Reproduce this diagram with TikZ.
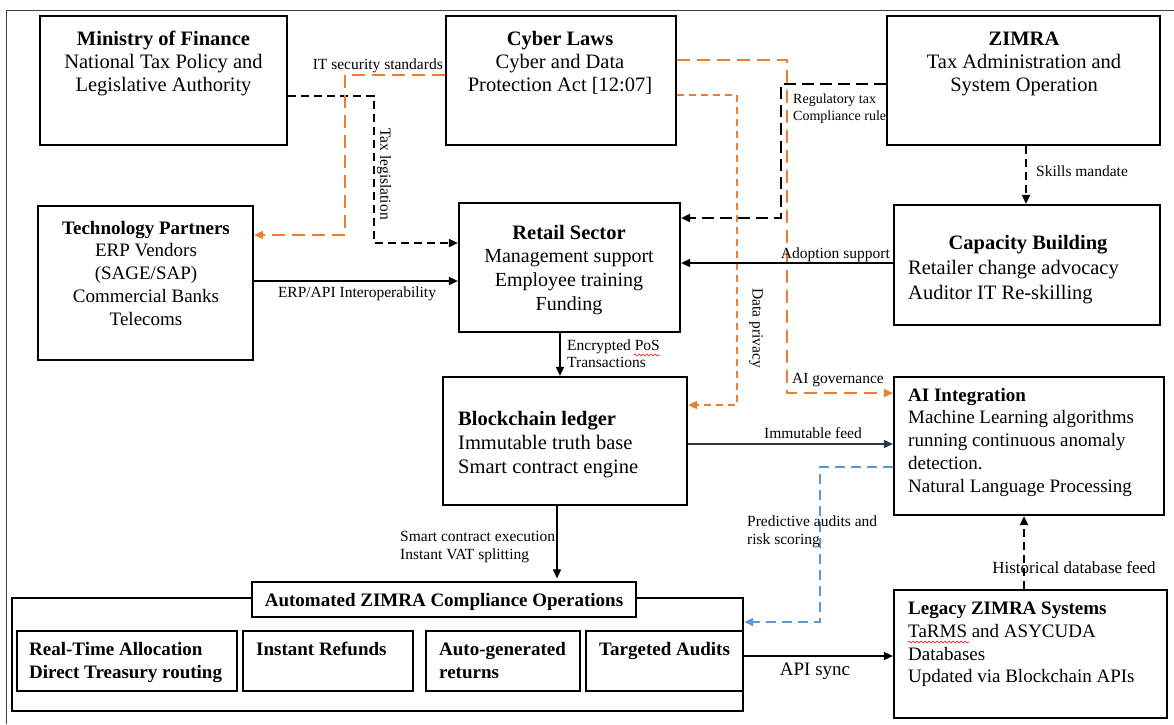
\documentclass[tikz,border=0pt]{standalone}
\usepackage{fontspec}
\setmainfont{Liberation Serif}
\usetikzlibrary{arrows.meta,decorations.pathmorphing}
\definecolor{orng}{HTML}{ED7D31}
\definecolor{blu}{HTML}{5B9BD5}
\definecolor{slate}{HTML}{2E3A48}
\tikzset{
  box/.style={draw, line width=2.2pt, fill=white, inner sep=0pt},
  subbox/.style={draw, line width=1.2pt, fill=white, inner sep=0pt},
  ttl/.style={font=\fontsize{20.5}{23}\selectfont\bfseries, inner sep=0pt},
  body/.style={font=\fontsize{20.5}{23}\selectfont, inner sep=0pt},
  ttls/.style={font=\fontsize{19}{22}\selectfont\bfseries, inner sep=0pt},
  bodys/.style={font=\fontsize{19}{22}\selectfont, inner sep=0pt},
  lbl/.style={font=\fontsize{15.5}{18}\selectfont, inner sep=0pt},
  tip/.style={-{Triangle[length=9pt,width=8pt]}},
  bdash/.style={tip, draw=black, line width=1.8pt, dash pattern=on 8pt off 5pt},
  bdashL/.style={tip, draw=black, line width=1.8pt, dash pattern=on 12pt off 6pt},
  odashL/.style={tip, draw=orng, line width=1.8pt, dash pattern=on 13pt off 7pt},
  odashS/.style={tip, draw=orng, line width=1.8pt, dash pattern=on 7pt off 5pt},
  bludash/.style={tip, draw=blu, line width=1.8pt, dash pattern=on 10pt off 6pt},
  solidarrow/.style={tip, draw=black, line width=1.6pt},
  squiggle/.style={draw=red, line width=0.6pt, decorate, decoration={snake, amplitude=0.9pt, segment length=4pt}}
}
\begin{document}
\begin{tikzpicture}[x=1pt,y=-1pt]
\useasboundingbox (0,0) rectangle (1174,724);
% outer frame
\draw[black!75, line width=0.8pt] (1174,10) -- (6,10) -- (6,724);

% label hidden partly under ZIMRA box
\node[lbl, font=\fontsize{14}{16}\selectfont, anchor=base west] (lreg1) at (793,103) {Regulatory tax};
\node[lbl, font=\fontsize{14}{16}\selectfont, anchor=base west] (lreg2) at (793,120) {Compliance rules};

% boxes
\node[box, minimum width=247pt, minimum height=129pt] (mf) at (163.5,80.5) {};
\node[box, minimum width=230pt, minimum height=129pt] (cl) at (561,80.5) {};
\node[box, minimum width=273pt, minimum height=129pt] (zr) at (1023.5,80.5) {};
\node[box, minimum width=215pt, minimum height=154pt] (tp) at (145.5,283) {};
\node[box, minimum width=221pt, minimum height=129pt] (rs) at (569.5,267.5) {};
\node[box, minimum width=266pt, minimum height=120pt] (cb) at (1027,265) {};
\node[box, minimum width=244pt, minimum height=128pt] (bl) at (565,441) {};
\node[box, minimum width=270pt, minimum height=138pt] (ai) at (1029,446) {};
\node[box, minimum width=273pt, minimum height=128pt] (lg) at (1030.5,654) {};
\node[box, minimum width=731pt, minimum height=113pt] (ops) at (377.5,654.5) {};
\node[subbox, minimum width=384pt, minimum height=35pt] (opt) at (444,599.5) {};
\node[subbox, minimum width=220pt, minimum height=60pt] (s1) at (127,661) {};
\node[subbox, minimum width=170pt, minimum height=60pt] (s2) at (328,661) {};
\node[subbox, minimum width=154pt, minimum height=60pt] (s3) at (503,661) {};
\node[subbox, minimum width=157pt, minimum height=60pt] (s4) at (664.5,661) {};

% box texts
\node[ttl, anchor=base] (mf1) at (163.5,45) {Ministry of Finance};
\node[body, anchor=base] (mf2) at (163.5,68) {National Tax Policy and};
\node[body, anchor=base] (mf3) at (163.5,91) {Legislative Authority};

\node[ttl, anchor=base] (cl1) at (560,45) {Cyber Laws};
\node[body, anchor=base] (cl2) at (560,68) {Cyber and Data};
\node[body, anchor=base] (cl3) at (560,91) {Protection Act [12:07]};

\node[ttl, anchor=base] (zr1) at (1024,45) {ZIMRA};
\node[body, anchor=base] (zr2) at (1024,68) {Tax Administration and};
\node[body, anchor=base] (zr3) at (1024,91) {System Operation};

\node[ttls, anchor=base] (tp1) at (146,234) {Technology Partners};
\node[bodys, anchor=base] (tp2) at (146,256) {ERP Vendors};
\node[bodys, anchor=base] (tp3) at (146,279) {(SAGE/SAP)};
\node[bodys, anchor=base] (tp4) at (146,302) {Commercial Banks};
\node[bodys, anchor=base] (tp5) at (146,325) {Telecoms};

\node[ttl, anchor=base] (rs1) at (569,239) {Retail Sector};
\node[body, font=\fontsize{20}{23}\selectfont, anchor=base] (rs2) at (569,262) {Management support};
\node[body, font=\fontsize{20}{23}\selectfont, anchor=base] (rs3) at (569,286) {Employee training};
\node[body, font=\fontsize{20}{23}\selectfont, anchor=base] (rs4) at (569,310) {Funding};

\node[ttl, anchor=base] (cb1) at (1028,249) {Capacity Building};
\node[body, anchor=base west] (cb2) at (908,274) {Retailer change advocacy};
\node[body, anchor=base west] (cb3) at (908,299) {Auditor IT Re-skilling};

\node[ttl, anchor=base west] (bl1) at (458,425) {Blockchain ledger};
\node[body, anchor=base west] (bl2) at (458,449) {Immutable truth base};
\node[body, anchor=base west] (bl3) at (458,473) {Smart contract engine};

\node[ttls, anchor=base west] (ai1) at (908,401) {AI Integration};
\node[bodys, anchor=base west] (ai2) at (908,423) {Machine Learning algorithms};
\node[bodys, anchor=base west] (ai3) at (908,446) {running continuous anomaly};
\node[bodys, anchor=base west] (ai4) at (908,469) {detection.};
\node[bodys, anchor=base west] (ai5) at (908,492) {Natural Language Processing};

\node[ttls, anchor=base west] (lg1) at (908,614) {Legacy ZIMRA Systems};
\node[bodys, anchor=base west] (lg2) at (908,637) {TaRMS and ASYCUDA};
\node[bodys, anchor=base west] (lg3) at (908,660) {Databases};
\node[bodys, anchor=base west] (lg4) at (908,682) {Updated via Blockchain APIs};

\node[ttls, anchor=base] (opt1) at (444,606) {Automated ZIMRA Compliance Operations};
\node[ttls, anchor=base west] (s1a) at (29,655) {Real-Time Allocation};
\node[ttls, anchor=base west] (s1b) at (29,678) {Direct Treasury routing};
\node[ttls, anchor=base west] (s2a) at (256,655) {Instant Refunds};
\node[ttls, anchor=base west] (s3a) at (439,655) {Auto-generated};
\node[ttls, anchor=base west] (s3b) at (439,678) {returns};
\node[ttls, anchor=base west] (s4a) at (599,655) {Targeted Audits};

% spell-check squiggles
\draw[squiggle] (634,355) -- (660,355);
\draw[squiggle] (908,642) -- (969,642);

% connectors
\draw[bdash] (mf.east |- 0,96) -| (374,243) -- (rs.west |- 0,243);
\draw[odashL] (cl.west |- 0,75) -| (345,235) -- (tp.east |- 0,235);
\draw[odashL] (cl.east |- 0,60) -| (787,393) -- (ai.west |- 0,393);
\draw[odashS] (cl.east |- 0,95) -| (737,405) -- (bl.east |- 0,405);
\draw[bdashL] (zr.west |- 0,84) -| (781,218) -- (rs.east |- 0,218);
\draw[bdash] (zr.south -| 1026,0) -- (cb.north -| 1026,0);
\draw[solidarrow] (cb.west |- 0,263) -- (rs.east |- 0,263);
\draw[solidarrow] (tp.east |- 0,281) -- (rs.west |- 0,281);
\draw[solidarrow] (rs.south -| 560,0) -- (bl.north -| 560,0);
\draw[solidarrow, draw=slate] (bl.east |- 0,444) -- (ai.west |- 0,444);
\draw[bludash] (ai.west |- 0,467) -| (820,622) -- (ops.east |- 0,622);
\draw[solidarrow, shorten >=3pt] (bl.south -| 557,0) -- (opt.north -| 557,0);
\draw[solidarrow] (s4.east |- 0,656) -- (lg.west |- 0,656);
\draw[bdash] (lg.north -| 1024,0) -- (ai.south -| 1024,0);

% connector labels
\node[lbl, anchor=base east] (lit) at (443,69) {IT security standards};
\node[lbl, rotate=-90] (ltax) at (384,174) {Tax legislation};
\node[lbl, anchor=base west] (lskill) at (1036,176) {Skills mandate};
\node[lbl, anchor=base east] (ladopt) at (890,258) {Adoption support};
\node[lbl, anchor=base] (lerp) at (357,297) {ERP/API Interoperability};
\node[lbl, rotate=-90] (ldata) at (756,328) {Data privacy};
\node[lbl, anchor=base west] (lenc1) at (567,350) {Encrypted PoS};
\node[lbl, anchor=base west] (lenc2) at (567,367) {Transactions};
\node[lbl, anchor=base west] (laig) at (792,383) {AI governance};
\node[lbl, anchor=base] (limm) at (813,438) {Immutable feed};
\node[lbl, anchor=base west] (lpred1) at (747,526) {Predictive audits and};
\node[lbl, anchor=base west] (lpred2) at (747,544) {risk scoring};
\node[lbl, anchor=base west] (lsc1) at (400,541) {Smart contract execution};
\node[lbl, anchor=base west] (lsc2) at (400,559) {Instant VAT splitting};
\node[lbl, font=\fontsize{17}{20}\selectfont, anchor=base] (lhist) at (1074,573) {Historical database feed};
\node[lbl, font=\fontsize{19}{22}\selectfont, anchor=base] (lapi) at (815,675) {API sync};
\end{tikzpicture}
\end{document}
